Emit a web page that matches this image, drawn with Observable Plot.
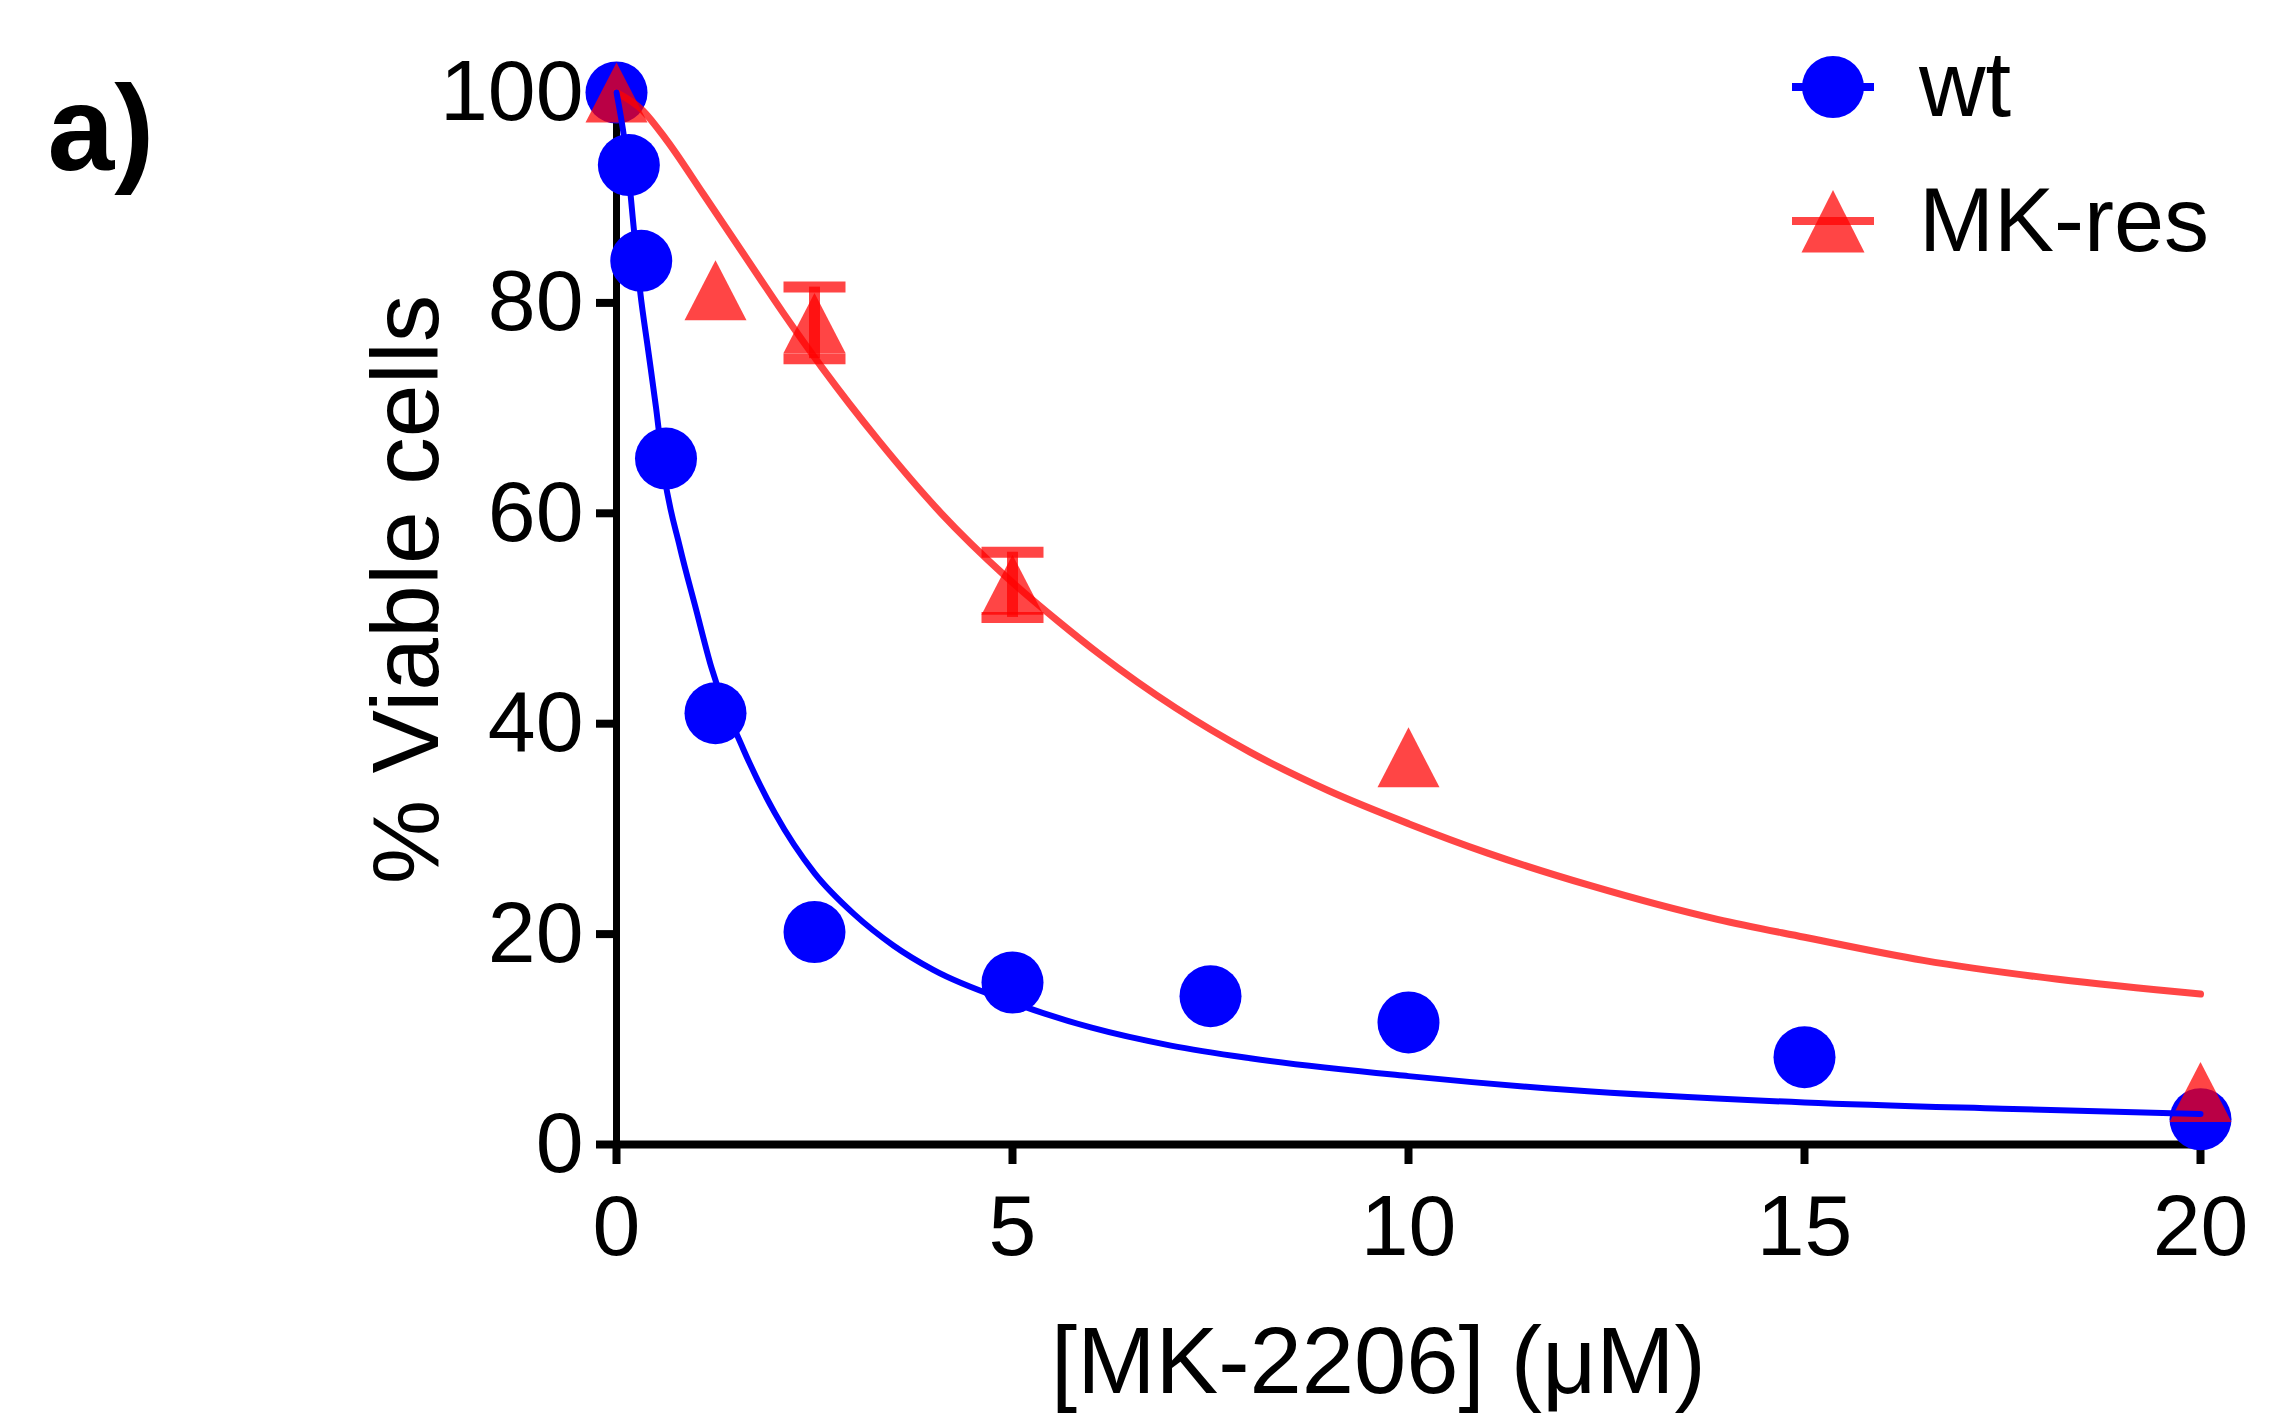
<!DOCTYPE html>
<html>
<head>
<meta charset="utf-8">
<script src="https://cdn.jsdelivr.net/npm/d3@7"></script>
<script src="https://cdn.jsdelivr.net/npm/@observablehq/plot@0.6"></script>
<style>
  html, body { margin: 0; padding: 0; background: #fff; }
  #chart svg { display: block; }
</style>
</head>
<body>
<div id="chart"></div>
<script>
// ---- data ----
const wtConc = [0, 0.156, 0.3125, 0.625, 1.25, 2.5, 5, 7.5, 10, 15, 20];
const wtViable = [100, 93.1, 84.0, 65.2, 41.0, 20.2, 15.4, 14.1, 11.6, 8.3, 2.4];

const resConc = [0, 1.25, 2.5, 5, 10, 20];
const resViable = [100, 81.2, 78.1, 53.2, 36.8, 5.0];
const resErr = [0, 0, 3.4, 3.1, 0, 0];

const wtFitX = [0, 0.1, 0.156, 0.2, 0.3, 0.4, 0.5, 0.6, 0.8, 1.0, 1.2, 1.6, 2.0, 2.5, 3.0, 3.5, 4.0, 5.0, 6.0, 7.0, 8.0, 10, 12, 15, 17.5, 20];
const wtFitY = [100, 95.5, 92, 88.5, 81, 75.5, 70, 63.8, 56.8, 51, 45.3, 37.6, 31.5, 25.8, 21.9, 18.9, 16.6, 13.5, 11.1, 9.4, 8.2, 6.5, 5.2, 4.0, 3.4, 2.9];

const resFitX = [0, 0.33, 0.63, 1.1, 1.6, 2.1, 2.6, 3.3, 4.1, 4.9, 5.6, 6.1, 7.06, 8.0, 9.0, 10, 11, 12.3, 13.9, 15, 16.5, 18.2, 20];
const resFitY = [100, 98.3, 95.5, 90.3, 84.7, 79.1, 73.8, 67.0, 60.0, 54.1, 49.6, 46.6, 41.5, 37.3, 33.6, 30.5, 27.7, 24.6, 21.4, 19.7, 17.5, 15.7, 14.3];

const xTicks = [0, 5, 10, 15, 20];
const yTicks = [0, 20, 40, 60, 80, 100];
const seriesNames = ["wt", "MK-res"];
const xTitle = "[MK-2206] (\u03BCM)";
const yTitle = "% Viable cells";
const panelLabel = "a)";

// ---- tables ----
const wtPts = wtConc.map((x, i) => ({x, y: wtViable[i]}));
const resPts = resConc.map((x, i) => ({x, y: resViable[i], e: resErr[i]}));
const resErrPts = resPts.filter(d => d.e > 0);
const resCaps = resErrPts.flatMap(d => [{x: d.x, y: d.y + d.e}, {x: d.x, y: d.y - d.e}]);
const wtFit = wtFitX.map((x, i) => ({x, y: wtFitY[i]}));
const resFit = resFitX.map((x, i) => ({x, y: resFitY[i]}));

const BLUE = "#0000ff";
const RED = "#ff0000";
const RA = 0.73;

const triSym = {draw(ctx) { ctx.moveTo(0, -30); ctx.lineTo(31, 30); ctx.lineTo(-31, 30); ctx.closePath(); }};
const capSym = {draw(ctx) { ctx.rect(-31, -5.5, 62, 11); }};

const FONT = "'Liberation Sans', Arial, Helvetica, sans-serif";

const chart = Plot.plot({
  width: 2274,
  height: 1426,
  marginLeft: 616,
  marginRight: 74,
  marginTop: 92,
  marginBottom: 282,
  style: {fontFamily: FONT, background: "#fff", color: "#000", overflow: "visible"},
  x: {domain: [0, 20]},
  y: {domain: [0, 100]},
  marks: [
    Plot.axisY({ticks: yTicks, tickSize: 20, tickPadding: 13, strokeWidth: 8, fontSize: 86, label: null}),
    Plot.axisX({ticks: xTicks, tickSize: 20, tickPadding: 29, strokeWidth: 8, fontSize: 86, label: null}),
    Plot.ruleX([0], {y1: 0, y2: 100, strokeWidth: 7, stroke: "#000"}),
    Plot.ruleY([0], {strokeWidth: 8, stroke: "#000"}),
    Plot.dot(wtPts, {x: "x", y: "y", r: 31, fill: BLUE, stroke: "none"}),
    Plot.dot(resPts, {x: "x", y: "y", symbol: triSym, fill: RED, fillOpacity: RA, stroke: "none"}),
    Plot.ruleX(resErrPts, {x: "x", y1: d => d.y - d.e, y2: d => d.y + d.e, stroke: RED, strokeOpacity: RA, strokeWidth: 11}),
    Plot.dot(resCaps, {x: "x", y: "y", symbol: capSym, fill: RED, fillOpacity: RA, stroke: "none"}),
    Plot.line(resFit, {x: "x", y: "y", curve: "monotone-x", stroke: RED, strokeOpacity: RA, strokeWidth: 7}),
    Plot.line(wtFit, {x: "x", y: "y", curve: "monotone-x", stroke: BLUE, strokeWidth: 6}),
    Plot.text([xTitle], {frameAnchor: "bottom", dx: -30, dy: 218, fontSize: 94, fill: "#000", textAnchor: "middle", lineAnchor: "middle"}),
    Plot.text([yTitle], {frameAnchor: "left", rotate: -90, dx: -209, dy: -29, fontSize: 95, fill: "#000", textAnchor: "middle", lineAnchor: "middle"}),
    Plot.text([panelLabel], {frameAnchor: "top-left", dx: -569, dy: 38.6, fontSize: 120, fontWeight: "bold", fill: "#000", textAnchor: "start", lineAnchor: "middle"})
  ]
});

document.getElementById("chart").appendChild(chart);

// ---- legend ----
const svg = d3.select(chart);
const lg = svg.append("g").attr("font-family", FONT).attr("text-anchor", "start");
// wt
lg.append("line").attr("x1", 1792).attr("x2", 1874).attr("y1", 87).attr("y2", 87)
  .attr("stroke", BLUE).attr("stroke-width", 8);
lg.append("circle").attr("cx", 1833).attr("cy", 87).attr("r", 31).attr("fill", BLUE);
lg.append("text").attr("x", 1919).attr("y", 116).attr("font-size", 92).attr("fill", "#000").text(seriesNames[0]);
// MK-res
lg.append("line").attr("x1", 1792).attr("x2", 1874).attr("y1", 221).attr("y2", 221)
  .attr("stroke", RED).attr("stroke-opacity", RA).attr("stroke-width", 8);
lg.append("path").attr("d", "M1833,190L1864.5,252.5L1801.5,252.5Z").attr("fill", RED).attr("fill-opacity", RA);
lg.append("text").attr("x", 1919).attr("y", 251).attr("font-size", 90).attr("fill", "#000").text(seriesNames[1]);
</script>
</body>
</html>
